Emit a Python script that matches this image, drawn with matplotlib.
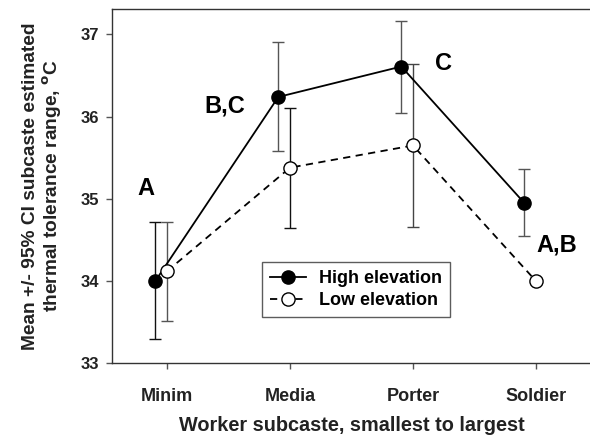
import matplotlib
matplotlib.use("Agg")
import matplotlib.pyplot as plt
import numpy as np

plt.rcParams['font.family'] = ['Liberation Sans', 'DejaVu Sans']
plt.rcParams['font.weight'] = 'bold'

categories = ["Minim", "Media", "Porter", "Soldier"]
high_mean = [34.00, 36.24, 36.61, 34.95]
high_lo = [33.29, 35.585, 36.05, 34.55]
high_hi = [34.72, 36.91, 37.17, 35.36]
low_mean = [34.12, 35.38, 35.65, 34.00]
low_lo = [33.52, 34.64, 34.66, 34.00]
low_hi = [34.72, 36.11, 36.64, 34.00]
high_bar_colors = ["#111111", "#555555", "#555555", "#555555"]
low_bar_colors = ["#555555", "#111111", "#444444", "#444444"]
letters = ["A", "B,C", "C", "A,B"]
letter_pos = [(-0.17, 35.13), (0.47, 36.13), (2.25, 36.65), (3.17, 34.44)]

fig = plt.figure(figsize=(5.9, 4.43), dpi=100)
ax = fig.add_axes([112/590, 1-363.3/443, (591-112)/590, (363.3-9)/443])

x = np.arange(len(categories))
off = 0.095
xh = x - off
xl = x

ax.plot(xh, high_mean, '-', color='black', lw=1.3, zorder=3,
        marker='o', ms=9.5, mfc='black', mec='black', label='High elevation')
ax.plot(xl, low_mean, '--', color='black', lw=1.3, zorder=3, dashes=(4, 3),
        marker='o', ms=9.5, mfc='white', mec='black', mew=1.0, label='Low elevation')

for i in range(len(categories)):
    m = high_mean[i]
    ax.errorbar([xh[i]], [m], yerr=[[m - high_lo[i]], [high_hi[i] - m]],
                fmt='none', ecolor=high_bar_colors[i], elinewidth=1.0, capsize=4.5, capthick=1.0, zorder=2)
    m = low_mean[i]
    if low_hi[i] - low_lo[i] > 0.01:
        ax.errorbar([xl[i]], [m], yerr=[[m - low_lo[i]], [low_hi[i] - m]],
                    fmt='none', ecolor=low_bar_colors[i], elinewidth=1.0, capsize=4.5, capthick=1.0, zorder=2)

for t, (px, py) in zip(letters, letter_pos):
    ax.text(px, py, t, fontsize=17, fontweight='bold', ha='center', va='center')

ax.set_xlim(-0.447, 3.447)
ax.set_ylim(33, 37.31)
ax.set_yticks([33, 34, 35, 36, 37])
ax.set_xticks(x)
ax.set_xticklabels(categories)
ax.spines['right'].set_visible(False)
for s in ['left', 'bottom', 'top']:
    ax.spines[s].set_color('#333333')
    ax.spines[s].set_linewidth(1.0)
ax.tick_params(axis='both', direction='out', length=4, width=1.0, color='#555555', labelsize=12)
ax.tick_params(axis='x', pad=14, labelsize=13)
ax.tick_params(axis='y', pad=5)
for lab in ax.get_xticklabels() + ax.get_yticklabels():
    lab.set_fontweight('bold')
    lab.set_color('#222222')

ax.set_xlabel("Worker subcaste, smallest to largest", fontsize=14.3, fontweight='bold', labelpad=8, color='#222222')
ax.set_ylabel("Mean +/- 95% CI subcaste estimated\nthermal tolerance range, $^{\\mathbf{o}}$C",
              fontsize=13.8, fontweight='bold', labelpad=12, color='#222222', linespacing=1.12)

leg = ax.legend(loc='upper left', bbox_to_anchor=((261.7-112)/479, 1-(261.7-9)/354.3),
                frameon=True, fancybox=False, edgecolor='#333333', fontsize=13,
                handlelength=2.0, borderpad=0.45, labelspacing=0.3, handletextpad=0.7,
                borderaxespad=0)
leg.get_frame().set_linewidth(1.0)
for t in leg.get_texts():
    t.set_fontweight('bold')

fig.savefig("out.png", dpi=100)
